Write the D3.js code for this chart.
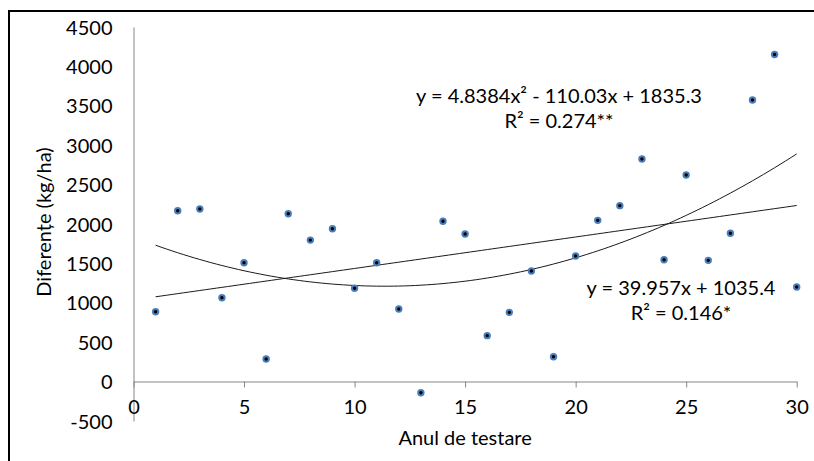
<!DOCTYPE html>
<html>
<head>
<meta charset="utf-8">
<script src="https://cdn.jsdelivr.net/npm/d3@7"></script>
<style>
  html, body { margin: 0; padding: 0; background: #fff; }
  svg { display: block; }
  text { font-family: Lato, "Open Sans", sans-serif; fill: #000; }
</style>
</head>
<body>
<svg id="chart" width="814" height="461"></svg>
<script>
// ---- data ----
const years = [1,2,3,4,5,6,7,8,9,10,11,12,13,14,15,16,17,18,19,20,21,22,23,24,25,26,27,28,29,30];
const differences = [886,2168,2190,1064,1508,286,2130,1795,1940,1183,1508,920,-142,2034,1872,582,878,1403,315,1593,2046,2232,2824,1546,2621,1538,1881,3573,4150,1200];
const xTicks = [0,5,10,15,20,25,30];
const yTicks = [-500,0,500,1000,1500,2000,2500,3000,3500,4000,4500];
const linearCoef = [1035.4, 39.957];            // a + b x
const quadCoef = [1835.3, -110.03, 4.8384];     // a + b x + c x^2
const quadLabel = ["y = 4.8384x\u00B2 - 110.03x + 1835.3", "R\u00B2 = 0.274**"];
const linLabel = ["y = 39.957x + 1035.4", "R\u00B2 = 0.146*"];
const xTitle = "Anul de testare";
const yTitle = "Diferențe (kg/ha)";

// ---- layout ----
const svg = d3.select("#chart");
const x = d3.scaleLinear().domain([0, 30]).range([133.5, 796.7]);
const y = d3.scaleLinear().domain([-500, 4500]).range([420.9, 27]);

// outer frame (top and left visible)
svg.append("rect").attr("x", 9).attr("y", 11).attr("width", 900).attr("height", 600)
  .attr("fill", "none").attr("stroke", "#000").attr("stroke-width", 2);

// y axis
const yAxis = d3.axisLeft(y).tickValues(yTicks).tickSize(0).tickPadding(21).tickFormat(d => String(d));
const gy = svg.append("g").attr("transform", `translate(${x(0)},0)`).call(yAxis);
gy.select(".domain").attr("stroke", "#868686");
gy.selectAll("text").attr("font-size", 20).attr("font-family", "Lato").attr("fill", "#222").attr("dy", "0.36em");

// x axis at y=0
const xAxis = d3.axisBottom(x).tickValues(xTicks).tickSize(6).tickSizeOuter(0).tickPadding(14).tickFormat(d => String(d));
const gx = svg.append("g").attr("transform", `translate(0,${y(0)})`).call(xAxis);
gx.select(".domain").attr("stroke", "#868686");
gx.selectAll(".tick line").attr("stroke", "#868686");
gx.selectAll("text").attr("font-size", 20).attr("font-family", "Lato").attr("fill", "#222").attr("dy", "0.6em");

// trend lines
const xs = d3.range(1, 30.01, 0.25);
const line = d3.line().x(d => x(d[0])).y(d => y(d[1]));
svg.append("path")
  .datum(xs.map(v => [v, linearCoef[0] + linearCoef[1] * v]))
  .attr("d", line).attr("fill", "none").attr("stroke", "#1a1a1a").attr("stroke-width", 1);
svg.append("path")
  .datum(xs.map(v => [v, quadCoef[0] + quadCoef[1] * v + quadCoef[2] * v * v]))
  .attr("d", line).attr("fill", "none").attr("stroke", "#1a1a1a").attr("stroke-width", 1);

// points
const pts = svg.append("g");
pts.selectAll("circle").data(years.map((v, i) => [v, differences[i]])).join("circle")
  .attr("cx", d => x(d[0])).attr("cy", d => y(d[1])).attr("r", 2.7)
  .attr("fill", "#000").attr("stroke", "#4a7ebb").attr("stroke-width", 2);

// equation labels
function label(lines, cx, y0) {
  lines.forEach((t, i) => {
    svg.append("text").attr("x", cx).attr("y", y0 + i * 25)
      .attr("text-anchor", "middle").attr("font-size", 20).attr("fill", "#222").text(t);
  });
}
label(quadLabel, 559, 103);
label(linLabel, 681, 295);

// axis titles
svg.append("text").attr("x", x(15)).attr("y", 445).attr("text-anchor", "middle")
  .attr("font-size", 20).attr("fill", "#222").text(xTitle);
svg.append("text").attr("transform", "translate(51,222) rotate(-90)").attr("text-anchor", "middle")
  .attr("font-size", 20).attr("fill", "#222").text(yTitle);
</script>
</body>
</html>
